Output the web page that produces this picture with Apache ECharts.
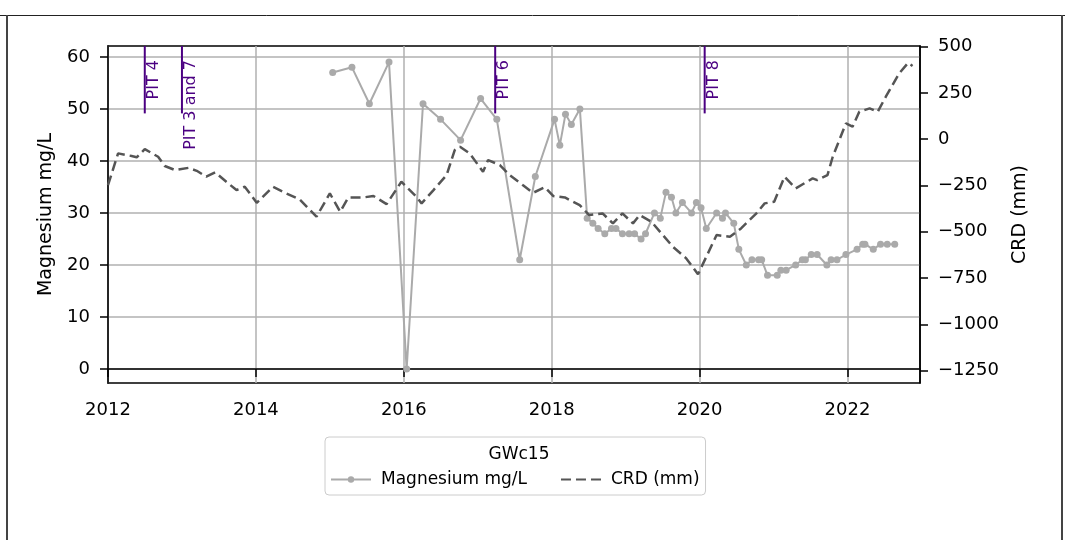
<!DOCTYPE html>
<html><head><meta charset="utf-8">
<script src="https://cdn.jsdelivr.net/npm/echarts@6/dist/echarts.min.js"></script>
<style>html,body{margin:0;padding:0;background:#fff}#c{width:1065px;height:540px}</style>
</head><body><div id="c"></div>
<script>
const MG_DATES = ['2015-01-15','2015-04-20','2015-07-15','2015-10-20','2016-01-15','2016-04-05','2016-07-01','2016-10-08','2017-01-15','2017-04-05','2017-07-27','2017-10-12','2018-01-15','2018-02-10','2018-03-10','2018-04-08','2018-05-20','2018-06-25','2018-07-23','2018-08-18','2018-09-20','2018-10-23','2018-11-14','2018-12-16','2019-01-18','2019-02-14','2019-03-18','2019-04-09','2019-05-23','2019-06-21','2019-07-19','2019-08-15','2019-09-06','2019-10-08','2019-11-22','2019-12-16','2020-01-08','2020-02-03','2020-03-25','2020-04-23','2020-05-08','2020-06-18','2020-07-13','2020-08-19','2020-09-16','2020-10-19','2020-11-03','2020-12-02','2021-01-19','2021-02-06','2021-03-04','2021-04-20','2021-05-23','2021-06-07','2021-07-06','2021-08-04','2021-09-21','2021-10-12','2021-11-10','2021-12-24','2022-02-17','2022-03-17','2022-03-28','2022-05-08','2022-06-13','2022-07-16','2022-08-22'];
const MG_VALUES = [57,58,51,59,0,51,48,44,52,48,21,37,48,43,49,47,50,29,28,27,26,27,27,26,26,26,25,26,30,29,34,33,30,32,30,32,31,27,30,29,30,28,23,20,21,21,21,18,18,19,19,20,21,21,22,22,20,21,21,22,23,24,24,23,24,24,24];
const CRD_DATES = ['2012-01-01','2012-02-20','2012-04-27','2012-05-22','2012-07-01','2012-09-05','2012-10-08','2012-11-28','2013-02-03','2013-03-15','2013-05-01','2013-06-14','2013-08-08','2013-09-27','2013-11-07','2014-01-05','2014-03-26','2014-05-31','2014-08-04','2014-10-27','2015-01-01','2015-02-21','2015-04-02','2015-06-14','2015-08-04','2015-10-08','2015-12-20','2016-03-03','2016-03-29','2016-05-27','2016-07-31','2016-09-09','2016-10-05','2016-11-22','2017-01-27','2017-02-21','2017-04-20','2017-06-07','2017-08-11','2017-10-01','2017-11-28','2018-01-08','2018-03-07','2018-05-19','2018-07-05','2018-09-09','2018-10-30','2018-12-16','2019-02-06','2019-03-11','2019-05-08','2019-08-22','2019-10-27','2019-12-24','2020-03-25','2020-05-30','2020-07-24','2020-10-08','2020-11-18','2021-01-04','2021-02-24','2021-04-20','2021-07-13','2021-08-04','2021-09-24','2021-10-20','2021-12-24','2022-01-26','2022-02-28','2022-04-20','2022-05-30','2022-07-09','2022-09-13','2022-10-27','2022-11-18'];
const CRD_VALUES = [-248,-77,-91,-98,-54,-95,-145,-167,-155,-171,-203,-179,-230,-275,-257,-344,-257,-293,-325,-419,-293,-392,-315,-315,-307,-351,-230,-311,-347,-275,-194,-59,-41,-77,-176,-113,-140,-194,-248,-290,-260,-307,-315,-356,-410,-401,-455,-401,-455,-410,-446,-581,-644,-730,-518,-527,-482,-401,-347,-338,-203,-266,-212,-221,-194,-95,85,67,148,166,148,229,355,412,395];
const PIT_DATES = ['2012-07-01','2013-01-01','2017-03-28','2020-01-26'];
const PIT_LABELS = ['PIT 4','PIT 3 and 7','PIT 6','PIT 8'];
const X_TICKS = [2012,2014,2016,2018,2020,2022];
const MG_TICKS = [0,10,20,30,40,50,60];
const CRD_TICKS = [-1250,-1000,-750,-500,-250,0,250,500];

function toYear(s){const p=s.split('-').map(Number);const t=Date.UTC(p[0],p[1]-1,p[2]),a=Date.UTC(p[0],0,1),b=Date.UTC(p[0]+1,0,1);return p[0]+(t-a)/(b-a);}
const FONT='DejaVu Sans';
const minus=v=>v<0?'\u2212'+Math.abs(v):String(v);
const chart=echarts.init(document.getElementById('c'),null,{renderer:'canvas'});
chart.setOption({
  animation:false,
  backgroundColor:'#ffffff',
  textStyle:{fontFamily:FONT},
  grid:{left:108,right:145,top:46,bottom:157,show:true,borderColor:'#000',borderWidth:1.5,backgroundColor:'transparent'},
  title:{text:'GWc15',left:514,top:441,textAlign:'center',textStyle:{fontSize:17,fontWeight:'normal',color:'#000',fontFamily:FONT}},
  legend:{left:325,top:437,orient:'horizontal',padding:[34,6,7,5],itemWidth:40,itemHeight:8,itemGap:33,
    borderColor:'#cccccc',borderWidth:1,borderRadius:4,backgroundColor:'#fff',
    textStyle:{fontFamily:FONT,fontSize:17,color:'#000',padding:[0,0,0,5]},
    data:[{name:'Magnesium mg/L'},{name:'CRD (mm)',itemStyle:{opacity:0}}]},
  graphic:[
    {type:'line',shape:{x1:0,y1:15.5,x2:1065,y2:15.5},style:{stroke:'#222',lineWidth:1}},
    {type:'line',shape:{x1:7,y1:15,x2:7,y2:540},style:{stroke:'#444',lineWidth:2}},
    {type:'line',shape:{x1:1062,y1:15,x2:1062,y2:540},style:{stroke:'#444',lineWidth:2}}
  ],
  xAxis:{type:'value',min:2012,max:2022.98,interval:2,position:'bottom',
    axisLine:{show:true,lineStyle:{color:'#000',width:1.5}},
    axisTick:{show:true,length:8,lineStyle:{color:'#000',width:1.5},customValues:X_TICKS},
    axisLabel:{customValues:X_TICKS,formatter:v=>String(Math.round(v)),fontSize:18,color:'#000',margin:18,fontFamily:FONT},
    splitLine:{show:true,lineStyle:{color:'#b0b0b0',width:1.5}}},
  yAxis:[
    {type:'value',min:-2.7,max:62.1,splitNumber:7,position:'left',
     name:'Magnesium mg/L',nameLocation:'middle',nameRotate:90,nameGap:52,
     nameTextStyle:{fontSize:19,color:'#000',fontFamily:FONT},
     axisLine:{show:true,lineStyle:{color:'#000',width:1.5}},
     axisTick:{show:true,length:8,lineStyle:{color:'#000',width:1.5},customValues:MG_TICKS},
     axisLabel:{customValues:MG_TICKS,fontSize:18,color:'#000',margin:18,fontFamily:FONT,padding:[2,0,0,0]},
     splitLine:{show:true,lineStyle:{color:'#b0b0b0',width:1.5}}},
    {type:'value',min:-1317,max:503,position:'right',
     name:'CRD (mm)',nameLocation:'middle',nameRotate:90,nameGap:91,
     nameTextStyle:{fontSize:19,color:'#000',fontFamily:FONT},
     axisLine:{show:true,lineStyle:{color:'#000',width:1.5}},
     axisTick:{show:true,length:8,lineStyle:{color:'#000',width:1.5},customValues:CRD_TICKS},
     axisLabel:{customValues:CRD_TICKS,formatter:minus,fontSize:18,color:'#000',margin:18,fontFamily:FONT,padding:[4,0,0,0]},
     splitLine:{show:false}}
  ],
  series:[
    {name:'Magnesium mg/L',type:'line',xAxisIndex:0,yAxisIndex:0,z:2,
     data:MG_DATES.map((d,i)=>[toYear(d),MG_VALUES[i]]),
     symbol:'circle',symbolSize:7,showSymbol:true,
     itemStyle:{color:'#aaaaaa'},lineStyle:{color:'#aaaaaa',width:2},emphasis:{disabled:true}},
    {name:'CRD (mm)',type:'line',xAxisIndex:0,yAxisIndex:1,z:3,
     data:CRD_DATES.map((d,i)=>[toYear(d),CRD_VALUES[i]]),
     symbol:'none',
     itemStyle:{color:'#555555'},lineStyle:{color:'#555555',width:2.5,type:[10,5]},emphasis:{disabled:true}},
    {name:'PIT',type:'custom',xAxisIndex:0,yAxisIndex:0,z:4,
     data:PIT_DATES.map(d=>[toYear(d),0]),
     encode:{x:0,y:1},
     renderItem:function(params,api){
       const x=api.coord([api.value(0),api.value(1)])[0];
       const cs=params.coordSys;
       return {type:'group',children:[
         {type:'line',shape:{x1:x,y1:cs.y,x2:x,y2:cs.y+cs.height*0.2},style:{stroke:'#4b0082',lineWidth:2}},
         {type:'text',x:x+1,y:cs.y+14,rotation:Math.PI/2,
          style:{text:PIT_LABELS[params.dataIndex],fill:'#4b0082',font:'16px "DejaVu Sans"',align:'right',verticalAlign:'top'}}
       ]};
     }}
  ]
});
</script></body></html>
